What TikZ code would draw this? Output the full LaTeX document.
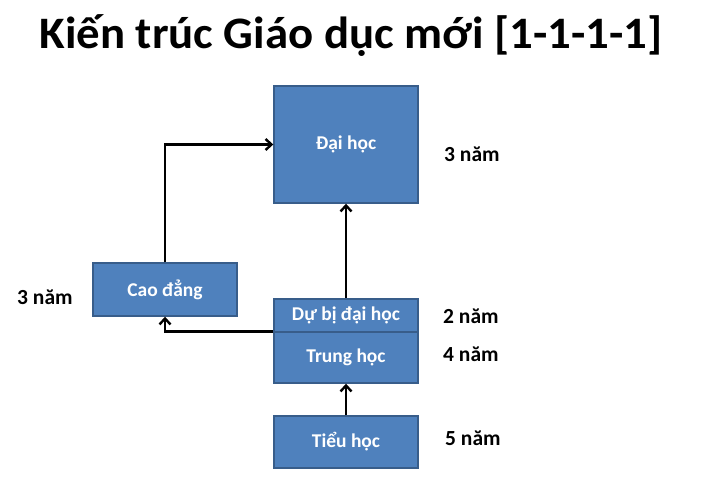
\documentclass[tikz,border=0pt]{standalone}
\usepackage{fontspec}
\setmainfont{Carlito}
\usetikzlibrary{arrows.meta}
\definecolor{boxfill}{HTML}{4F81BD}
\definecolor{boxline}{HTML}{385D8A}
\begin{document}
\begin{tikzpicture}[x=1pt,y=-1pt,
  box/.style={draw=boxline, line width=1.4pt, fill=boxfill, text=white,
    font=\fontsize{19.5}{22}\selectfont\bfseries, minimum width=144pt, inner sep=0pt},
  lbl/.style={anchor=west, font=\fontsize{21.5}{24}\selectfont\bfseries, inner sep=0pt},
  arr/.style={line width=2.4pt, -{Straight Barb[length=6pt,width=11pt]}}]
\useasboundingbox[fill=white] (0,0) rectangle (707,490);
\node[font=\fontsize{45}{50}\selectfont\bfseries, xscale=1.04] (title) at (351,36) {Kiến trúc Giáo dục mới [1-1-1-1]};
\node[box, minimum height=117pt] (dai) at (346,144.5) {Đại học};
\node[box, minimum height=53pt] (cao) at (165,289.5) {Cao đẳng};
\node[box, minimum height=33pt] (dubi) at (346,315.5) {Dự bị đại học};
\node[box, minimum height=51pt] (trung) at (346,357.5) {Trung học};
\node[box, minimum height=52pt] (tieu) at (346,442) {Tiểu học};
\node[lbl] (l1) at (444,154) {3 năm};
\node[lbl] (l2) at (17,297) {3 năm};
\node[lbl] (l3) at (443,316) {2 năm};
\node[lbl] (l4) at (443,354) {4 năm};
\node[lbl] (l5) at (445,438) {5 năm};
\draw[arr] (cao.north) |- (dai.west);
\draw[arr] (dubi.north) -- (dai.south);
\draw[arr] (trung.north west) -| (cao.south);
\draw[arr] (tieu.north) -- (trung.south);
\end{tikzpicture}
\end{document}
